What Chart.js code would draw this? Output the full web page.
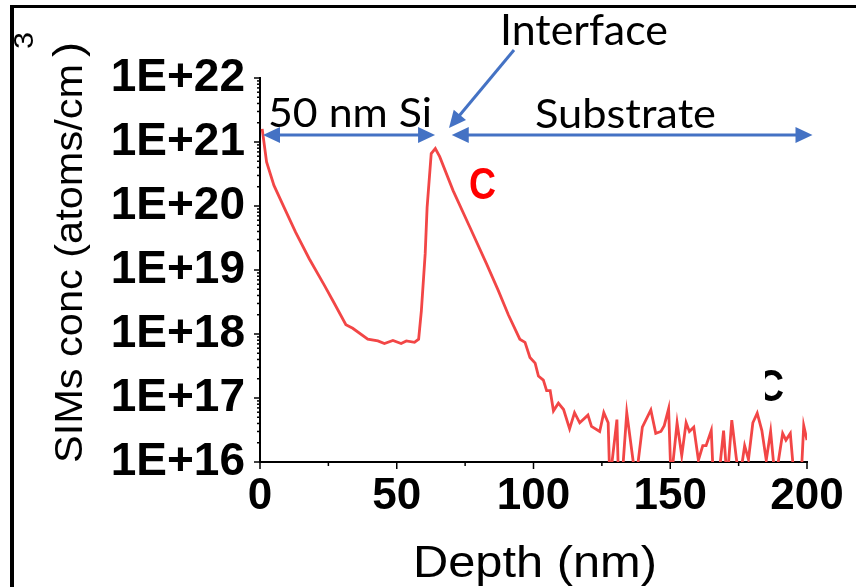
<!DOCTYPE html>
<html>
<head>
<meta charset="utf-8">
<script src="https://cdn.jsdelivr.net/npm/chart.js@4.4.1/dist/chart.umd.min.js"></script>
<style>
  html,body{margin:0;padding:0;background:#fff;}
  canvas{display:block;}
</style>
</head>
<body>
<canvas id="simsChart" width="856" height="587"></canvas>
<script>
var depthNm = [
  0.8, 2.4, 5.1, 8.8, 13.0, 18.0, 23.5, 27.2, 31.4, 33.9,
  39.4, 43.1, 45.5, 48.6, 51.6, 53.5, 56.5, 58.0, 59.0, 60.4,
  61.1, 62.6, 64.1, 65.7, 70.6, 76.7, 82.8, 87.1, 90.8, 95.0,
  96.9, 98.7, 100.6, 101.8, 103.6, 104.8, 106.1, 107.3, 109.1, 111.0,
  113.2, 115.0, 116.9, 119.9, 121.2, 124.2, 125.7, 127.3, 127.9, 130.5,
  131.1, 132.3, 134.1, 137.4, 139.8, 142.9, 144.7, 146.6, 147.8, 149.4,
  150.3, 152.5, 154.2, 155.8, 157.0, 158.6, 160.3, 161.9, 163.1, 165.0,
  165.8, 167.6, 169.5, 170.8, 172.5, 174.1, 175.3, 177.2, 178.6, 180.2,
  181.8, 183.5, 185.1, 186.7, 188.4, 191.1, 192.3, 193.9, 195.4, 197.8,
  198.8, 200.0
];
var carbonConc = [
  1.6e21, 4.9e20, 2.1e20, 9.5e19, 3.9e19, 1.5e19, 5.8e18, 3.0e18, 1.4e18, 1.23e18,
  8.3e17, 7.8e17, 7.1e17, 7.9e17, 7.1e17, 7.8e17, 7.4e17, 8.3e17, 2.3e18, 1.8e19,
  9.5e19, 6.6e20, 7.9e20, 5.9e20, 1.74e20, 4.7e19, 1.26e19, 4.8e18, 2.0e18, 8.3e17,
  7.4e17, 4.3e17, 3.5e17, 2.2e17, 1.9e17, 1.3e17, 1.3e17, 6.3e16, 8.3e16, 6.6e16,
  3.3e16, 5.9e16, 4.1e16, 5.4e16, 3.6e16, 3.0e16, 5.9e16, 4.1e16, 5e15, 4.6e16,
  5e15, 5e15, 5.9e16, 5e15, 3.5e16, 6.5e16, 2.8e16, 3.0e16, 3.7e16, 6.8e16,
  5e15, 4.1e16, 1.26e16, 4.1e16, 3.0e16, 3.5e16, 1.07e16, 1.8e16, 1.8e16, 3.1e16,
  5e15, 5e15, 3.1e16, 5e15, 4.5e16, 1.2e16, 5e15, 1.8e16, 1.1e16, 4.1e16,
  5.8e16, 3.1e16, 1.07e16, 3.0e16, 5e15, 2.8e16, 2.2e16, 2.8e16, 5e15, 5e15,
  3.7e16, 2.2e16
];
var xTickValues = [0, 50, 100, 150, 200];
var xTickLabels = ['0', '50', '100', '150', '200'];
var yTickValues = [1e16, 1e17, 1e18, 1e19, 1e20, 1e21, 1e22];
var yTickLabels = ['1E+16', '1E+17', '1E+18', '1E+19', '1E+20', '1E+21', '1E+22'];

/* flechas en coordenadas de datos: [x inicio, x fin, y] */
var siArrow = [1.1, 64.0, 1.29e21];
var subArrow = [70.1, 202.0, 1.29e21];

(function () {
    'use strict';

    var BLUE = '#4472C4';
    var RED_LINE = '#F24646';

    function line(c, x1, y1, x2, y2) {
        c.beginPath(); c.moveTo(x1, y1); c.lineTo(x2, y2); c.stroke();
    }

    /* flecha con punta(s) rellena(s) */
    function arrow(c, x1, y1, x2, y2, both) {
        var ang = Math.atan2(y2 - y1, x2 - x1), L = 17, W = 8;
        function head(x, y, a) {
            c.beginPath();
            c.moveTo(x, y);
            c.lineTo(x - L * Math.cos(a) + W * Math.sin(a), y - L * Math.sin(a) - W * Math.cos(a));
            c.lineTo(x - L * Math.cos(a) - W * Math.sin(a), y - L * Math.sin(a) + W * Math.cos(a));
            c.closePath(); c.fill();
        }
        c.strokeStyle = BLUE; c.fillStyle = BLUE; c.lineWidth = 3;
        var sx = both ? x1 + (L - 2) * Math.cos(ang) : x1, sy = both ? y1 + (L - 2) * Math.sin(ang) : y1;
        line(c, sx, sy, x2 - (L - 2) * Math.cos(ang), y2 - (L - 2) * Math.sin(ang));
        head(x2, y2, ang);
        if (both) head(x1, y1, ang + Math.PI);
    }

    /* texto ajustado a un ancho dado (escala horizontal) */
    function fitText(c, str, left, base, width, font, color) {
        c.save();
        c.font = font; c.fillStyle = color;
        c.textAlign = 'left'; c.textBaseline = 'alphabetic';
        var w = c.measureText(str).width;
        c.translate(left, base); c.scale(width / w, 1);
        c.fillText(str, 0, 0);
        c.restore();
    }

    var annot = {
        id: 'annot',
        afterDraw: function (chart) {
            var c = chart.ctx, xs = chart.scales.x, ys = chart.scales.y, a = chart.chartArea;
            c.save();

            /* ── marcas de ejes ── */
            c.strokeStyle = '#000'; c.lineWidth = 1.5;
            xTickValues.forEach(function (v, i) {
                var px = xs.getPixelForValue(v);
                line(c, px, a.bottom, px, a.bottom + 7);
                if (i < xTickValues.length - 1) {
                    var pm = xs.getPixelForValue(v + 25);
                    line(c, pm, a.bottom, pm, a.bottom + 4);
                }
            });
            yTickValues.forEach(function (v, i) {
                var py = ys.getPixelForValue(v);
                line(c, a.left - 6, py, a.left, py);
                if (i < yTickValues.length - 1) {
                    for (var m = 2; m < 10; m++) {
                        var pm = ys.getPixelForValue(m * v);
                        line(c, a.left - 3, pm, a.left, pm);
                    }
                }
            });

            /* ── flechas ── */
            arrow(c, xs.getPixelForValue(siArrow[0]), ys.getPixelForValue(siArrow[2]),
                     xs.getPixelForValue(siArrow[1]), ys.getPixelForValue(siArrow[2]), true);
            arrow(c, xs.getPixelForValue(subArrow[0]), ys.getPixelForValue(subArrow[2]),
                     xs.getPixelForValue(subArrow[1]), ys.getPixelForValue(subArrow[2]), true);
            arrow(c, 514, 50, 449, 128, false);

            /* ── textos ── */
            fitText(c, 'Interface', 500, 45, 168, '42px Lato', '#000');
            fitText(c, '50 nm Si', 268, 127, 164, '40px Lato', '#000');
            fitText(c, 'Substrate', 535, 128, 181, '40px Lato', '#000');
            fitText(c, 'C', 469, 199, 27, 'bold 45px "Liberation Sans"', '#FF0000');

            c.save();
            c.beginPath(); c.rect(765, 360, 40, 50); c.clip();
            fitText(c, 'C', 757, 401, 27, 'bold 45px "Liberation Sans"', '#000');
            c.restore();

            fitText(c, 'Depth (nm)', 413, 577, 244, '44px "Liberation Sans"', '#000');

            /* título Y girado con superíndice */
            c.save();
            c.translate(82, 463); c.rotate(-Math.PI / 2);
            fitText(c, 'SIMs conc (atoms/cm', 0, 0, 399, '38px "Liberation Sans"', '#000');
            fitText(c, ')', 406, 0, 15, '40px "Liberation Sans"', '#000');
            fitText(c, '3', 414, -49, 17, '28px "Liberation Sans"', '#000');
            c.restore();

            /* ── marco ── */
            c.fillStyle = '#000';
            c.fillRect(10, 5, 846, 3);
            c.fillRect(10, 5, 4, 582);
            c.restore();
        }
    };

    var pts = depthNm.map(function (x, i) { return { x: x, y: carbonConc[i] }; });

    new Chart(document.getElementById('simsChart'), {
        type: 'line',
        data: { datasets: [{
            label: 'C', data: pts,
            borderColor: RED_LINE, borderWidth: 2.8,
            pointRadius: 0, tension: 0, fill: false
        }]},
        options: {
            responsive: false, animation: false,
            layout: { padding: { left: 0, top: 78, right: 49, bottom: 0 } },
            plugins: { legend: { display: false }, tooltip: { enabled: false } },
            scales: {
                x: {
                    type: 'linear', min: 0, max: 200,
                    grid: { display: false, drawTicks: false },
                    border: { display: true, color: '#000', width: 2 },
                    afterBuildTicks: function (s) { s.ticks = xTickValues.map(function (v) { return { value: v }; }); },
                    afterFit: function (s) { s.height = 125; },
                    ticks: {
                        autoSkip: false, maxRotation: 0, padding: 8, color: '#000',
                        font: { family: 'Liberation Sans', weight: 'bold', size: 44 },
                        callback: function (v) { var i = xTickValues.indexOf(v); return i >= 0 ? xTickLabels[i] : ''; }
                    }
                },
                y: {
                    type: 'logarithmic', min: 1e16, max: 1e22,
                    grid: { display: false, drawTicks: false },
                    border: { display: true, color: '#000', width: 2 },
                    afterBuildTicks: function (s) { s.ticks = yTickValues.map(function (v) { return { value: v }; }); },
                    afterFit: function (s) { s.width = 260; },
                    ticks: {
                        autoSkip: false, padding: 15, color: '#000',
                        font: { family: 'Liberation Sans', weight: 'bold', size: 46 },
                        callback: function (v) { var i = yTickValues.indexOf(v); return i >= 0 ? yTickLabels[i] : ''; }
                    }
                }
            }
        },
        plugins: [annot]
    });
})();
</script>
</body>
</html>
